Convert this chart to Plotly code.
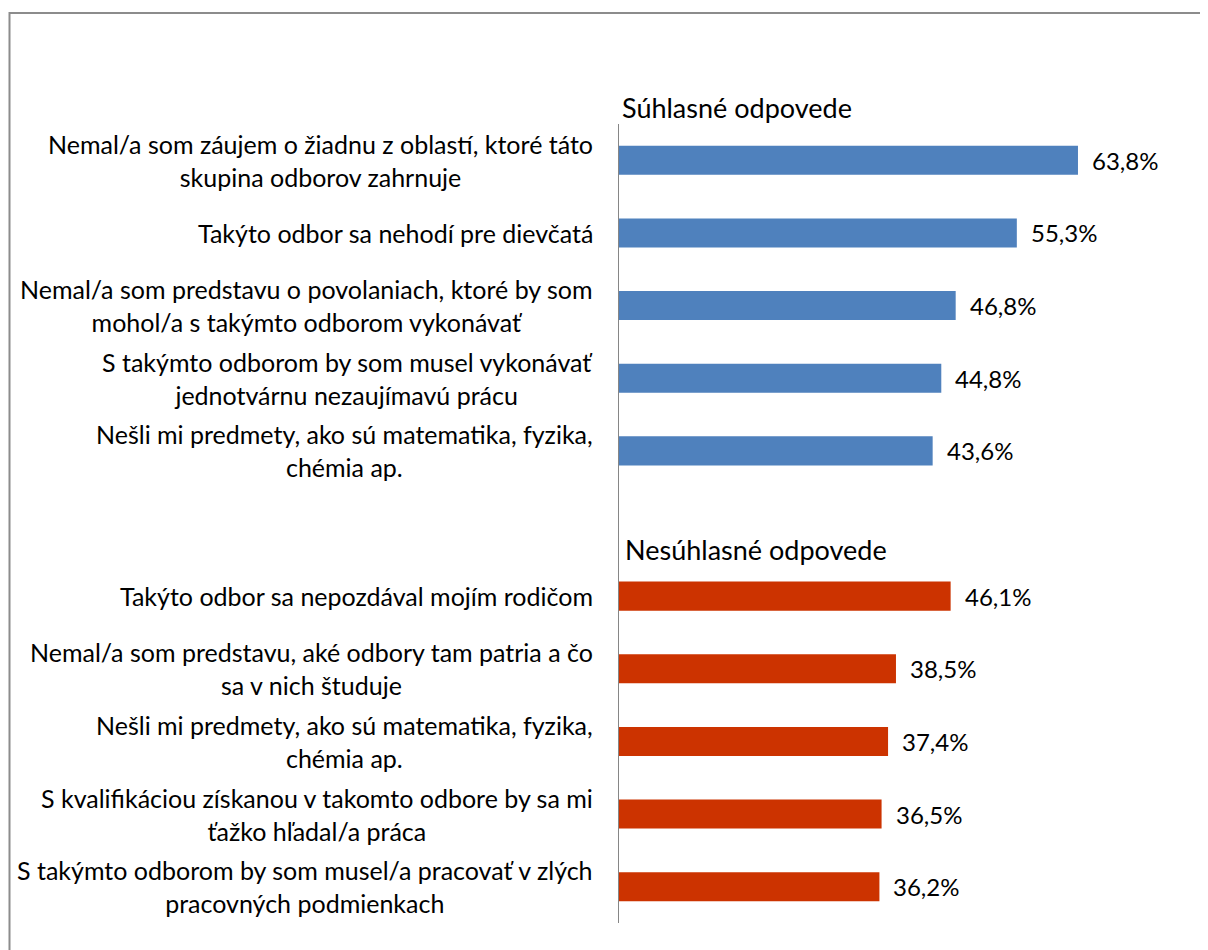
import plotly.graph_objects as go

# ---- data ----
agree_header = "Súhlasné odpovede"
disagree_header = "Nesúhlasné odpovede"
agree_labels = [
    "Nemal/a som záujem o žiadnu z oblastí, ktoré táto<br>skupina odborov zahrnuje",
    "Takýto odbor sa nehodí pre dievčatá",
    "Nemal/a som predstavu o povolaniach, ktoré by som<br>mohol/a s takýmto odborom vykonávať",
    "S takýmto odborom by som musel vykonávať<br>jednotvárnu nezaujímavú prácu",
    "Nešli mi predmety, ako sú matematika, fyzika,<br>chémia ap.",
]
agree_values = [63.8, 55.3, 46.8, 44.8, 43.6]
disagree_labels = [
    "Takýto odbor sa nepozdával mojím rodičom",
    "Nemal/a som predstavu, aké odbory tam patria a čo<br>sa v nich študuje",
    "Nešli mi predmety, ako sú matematika, fyzika,<br>chémia ap.",
    "S kvalifikáciou získanou v takomto odbore by sa mi<br>ťažko hľadal/a práca",
    "S takýmto odborom by som musel/a pracovať v zlých<br>pracovných podmienkach",
]
disagree_values = [46.1, 38.5, 37.4, 36.5, 36.2]

# ---- layout constants (page body has an 8px margin) ----
FONT = "Lato"
BLUE = "#4F81BD"
RED = "#CC3300"
W, H = 1200, 942
ML, MR, MT, MB = 611, 18, 116, 27
PX_PER_UNIT = 7.194
plot_w = W - ML - MR
plot_h = H - MT - MB
xmax = plot_w / PX_PER_UNIT

agree_pos = list(range(len(agree_values)))
disagree_pos = [len(agree_values) + 1 + i for i in range(len(disagree_values))]
n_slots = len(agree_values) + 1 + len(disagree_values)

fig = go.Figure()
fig.add_trace(go.Bar(y=agree_pos, x=agree_values, orientation="h", width=0.4,
                     marker=dict(color=BLUE, line=dict(width=0)), hoverinfo="x"))
fig.add_trace(go.Bar(y=disagree_pos, x=disagree_values, orientation="h", width=0.4,
                     marker=dict(color=RED, line=dict(width=0)), hoverinfo="x"))

LBL = 25
VAL = 24
annotations = []
for labels, values, pos in [(agree_labels, agree_values, agree_pos),
                            (disagree_labels, disagree_values, disagree_pos)]:
    for lab, v, p in zip(labels, values, pos):
        annotations.append(dict(x=0, y=p, xref="x", yref="y", text=lab, showarrow=False,
                                xanchor="right", yanchor="middle", align="center",
                                xshift=-24, font=dict(family=FONT, size=LBL, color="#000000")))
        annotations.append(dict(x=v, y=p, xref="x", yref="y",
                                text=f"{v:.1f}".replace(".", ",") + "%", showarrow=False,
                                xanchor="left", yanchor="middle", xshift=12,
                                font=dict(family=FONT, size=VAL, color="#000000")))

def paper_y(py):
    return 1 - (py - MT) / plot_h

annotations.append(dict(x=0, y=paper_y(99), xref="x", yref="paper", text=agree_header,
                        showarrow=False, xanchor="left", yanchor="middle", xshift=1,
                        font=dict(family=FONT, size=27, color="#000000")))
annotations.append(dict(x=0, y=paper_y(541), xref="x", yref="paper", text=disagree_header,
                        showarrow=False, xanchor="left", yanchor="middle", xshift=4,
                        font=dict(family=FONT, size=27, color="#000000")))

# outer frame (top & left edges visible)
fx0 = (1.5 - ML) / plot_w
fx1 = (W + 20 - ML) / plot_w
fy1 = 1 + (MT - 5) / plot_h
fy0 = -(MB + 20) / plot_h

fig.update_layout(
    width=W, height=H,
    margin=dict(l=ML, r=MR, t=MT, b=MB, pad=0),
    paper_bgcolor="white", plot_bgcolor="white",
    showlegend=False,
    font=dict(family=FONT, size=LBL, color="#000000"),
    xaxis=dict(range=[0, xmax], showgrid=False, zeroline=False, showticklabels=False,
               showline=False, ticks=""),
    yaxis=dict(range=[n_slots - 0.5, -0.5], showgrid=False, zeroline=False,
               showticklabels=False, showline=True, linecolor="#868686", linewidth=1,
               ticks="", mirror=False),
    annotations=annotations,
    shapes=[dict(type="rect", xref="paper", yref="paper", x0=fx0, x1=fx1, y0=fy0, y1=fy1,
                 line=dict(color="#8C8C8C", width=2), fillcolor="rgba(0,0,0,0)", layer="above")],
)

fig.write_html("out.html")
